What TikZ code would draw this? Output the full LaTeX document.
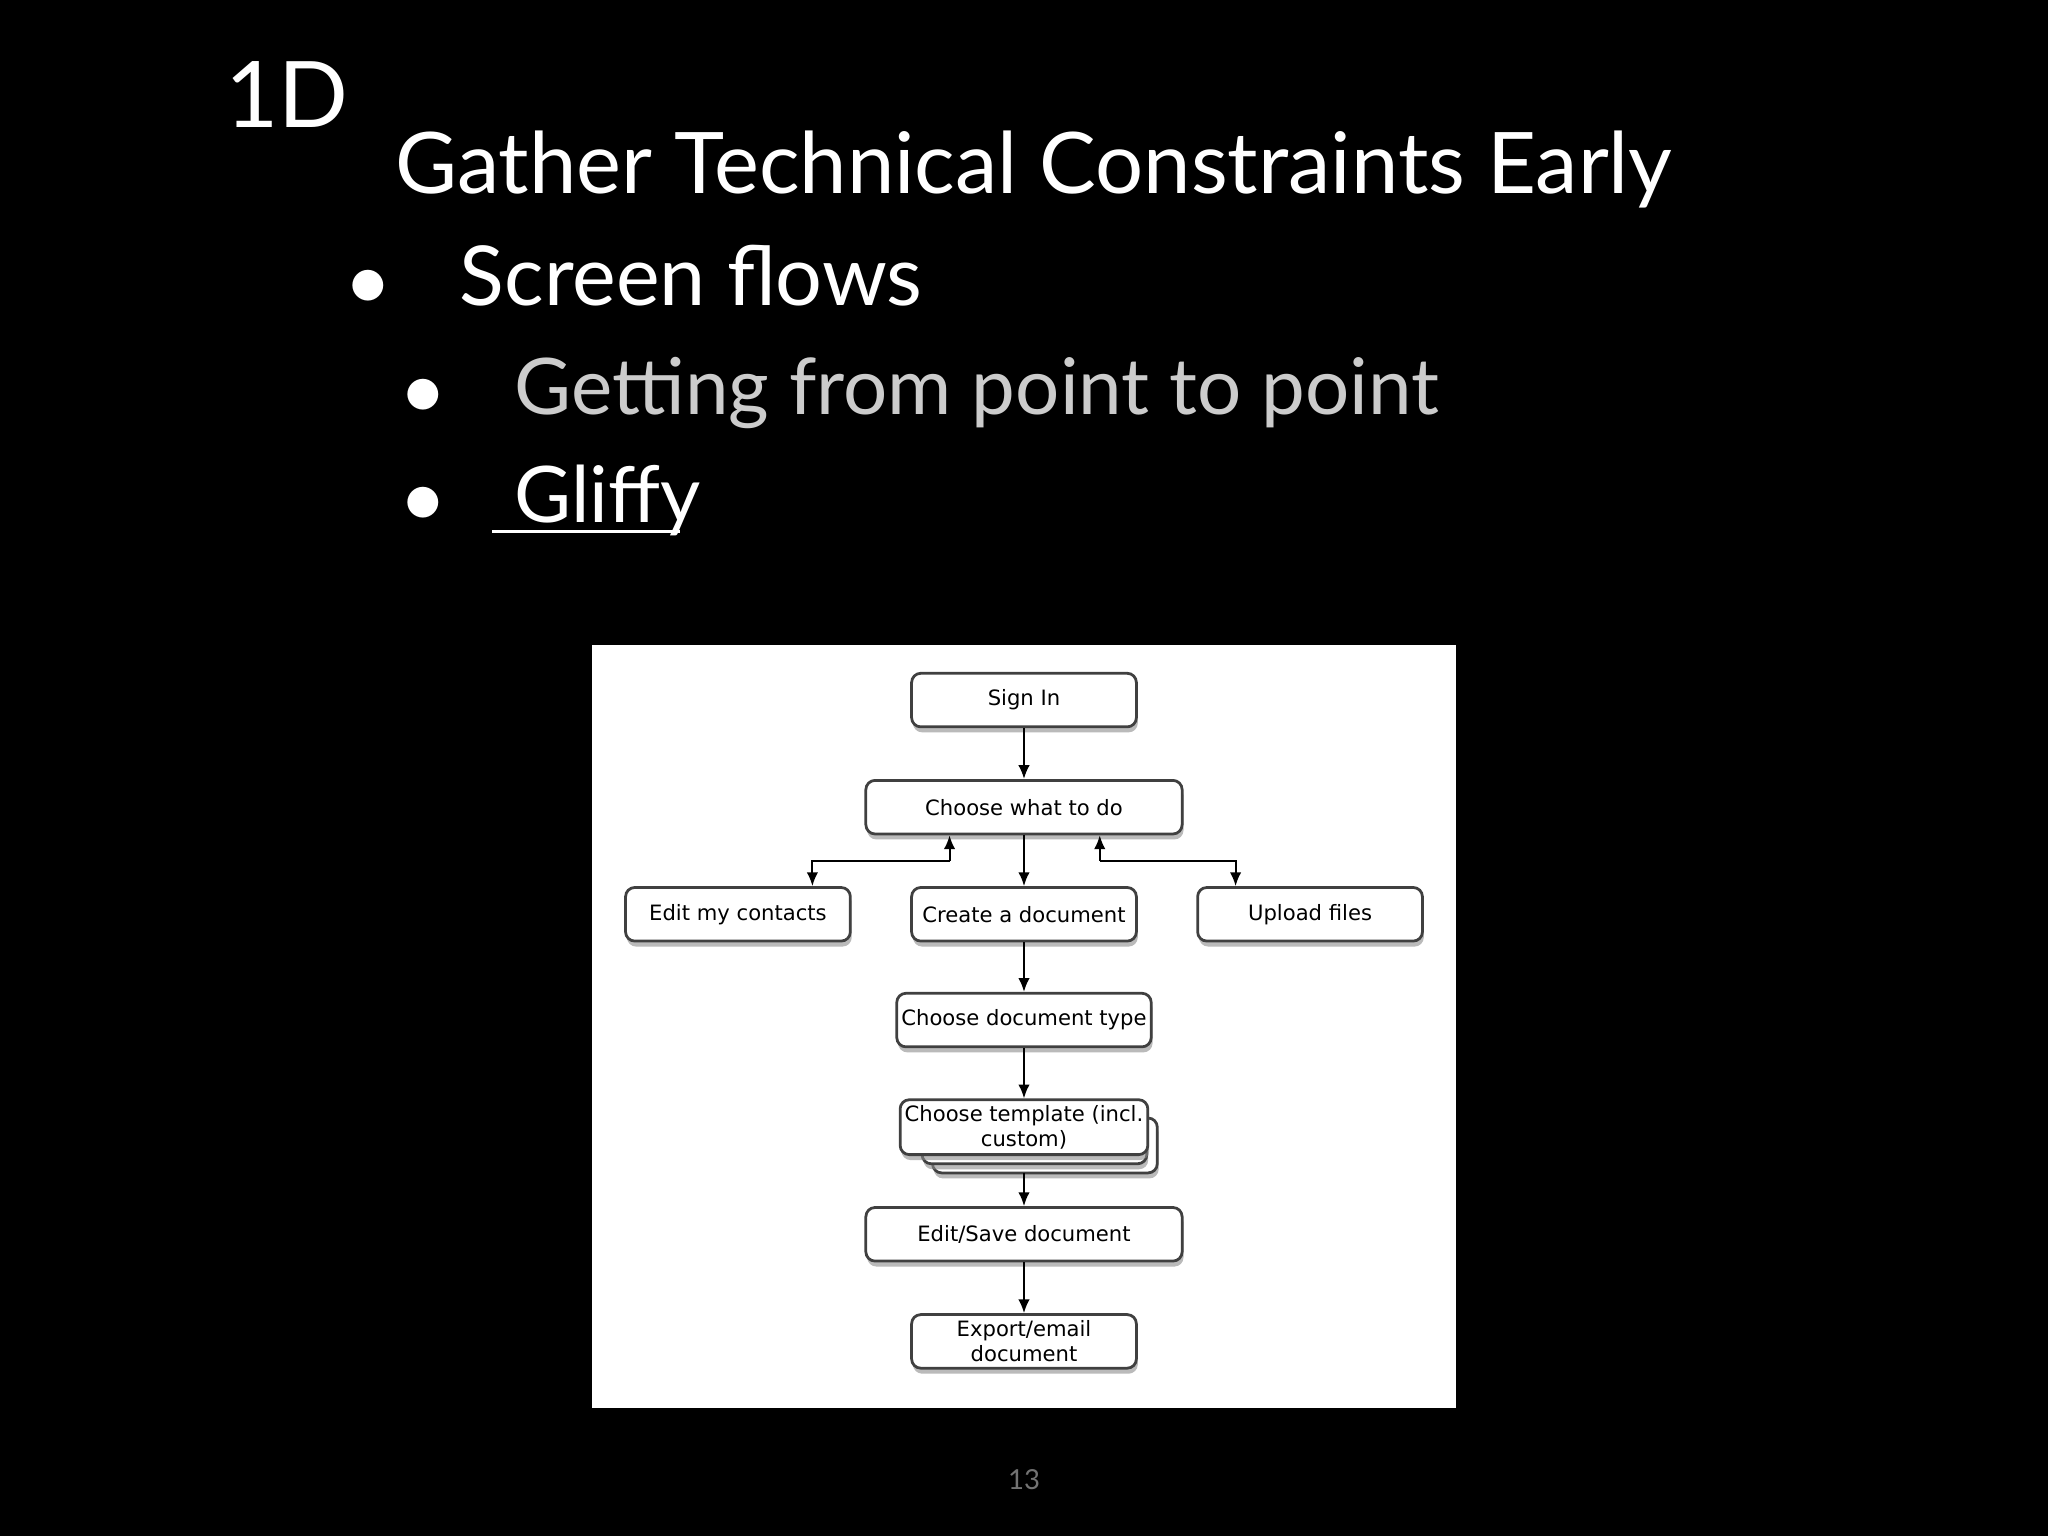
\documentclass[tikz,border=0pt]{standalone}
\usepackage{fontspec}
\setmainfont{Lato}
\newfontfamily\boxfont{DejaVu Sans}
\usetikzlibrary{shadows,arrows.meta}
\begin{document}
\begin{tikzpicture}[x=0.01cm,y=-0.01cm,
  bx/.style={draw=black!75,line width=0.6pt,fill=white,rounded corners=2pt,minimum height=0.41cm,
    font=\boxfont\fontsize{4.6}{5.4}\selectfont,align=center,inner sep=1pt,
    drop shadow={shadow xshift=0.3pt,shadow yshift=-1.2pt,fill=black!45,opacity=0.6}},
  ar/.style={-{Latex[length=3pt,width=2.5pt]},line width=0.45pt},
  tt/.style={text=white,anchor=base west,inner sep=0}]
\fill[black] (0,0) rectangle (1568,1176);
\node[tt,font=\fontsize{20}{24}\selectfont] (t1) at (172,98) {1D};
\node[tt,font=\fontsize{18.5}{22}\selectfont] (t2) at (302,148) {Gather Technical Constraints Early};
\node[tt,font=\fontsize{18}{22}\selectfont] (b1) at (266,234) {$\bullet$\hspace{0.55cm}Screen flows};
\node[tt,font=\fontsize{17}{20}\selectfont,text=black!20] (b2) at (308,317) {\textcolor{white}{$\bullet$}\hspace{0.55cm}Getting from point to point};
\node[tt,font=\fontsize{17}{20}\selectfont] (b3) at (308,400) {$\bullet$\hspace{0.55cm}Gliffy};
\draw[white,line width=0.6pt] (377,407) -- (521,407);
\node[text=black!55,font=\fontsize{6}{7}\selectfont] (pg) at (784,1133) {13};
\fill[white] (453,494) rectangle (1115,1078);
\node[bx,minimum width=1.72cm] (si) at (784,536) {Sign In};
\node[bx,minimum width=2.42cm] (cw) at (784,618) {Choose what to do};
\node[bx,minimum width=1.72cm] (ec) at (565,700) {Edit my contacts};
\node[bx,minimum width=1.72cm] (cd) at (784,700) {Create a document};
\node[bx,minimum width=1.72cm] (uf) at (1003,700) {Upload files};
\node[bx,minimum width=1.72cm] (dt) at (784,781) {Choose document type};
\node[bx,minimum width=1.72cm,minimum height=0.42cm] (tp3) at (800,877) {};
\node[bx,minimum width=1.72cm,minimum height=0.42cm] (tp2) at (792,870) {};
\node[bx,minimum width=1.72cm,minimum height=0.42cm] (tp) at (784,863) {Choose template (incl.\\custom)};
\node[bx,minimum width=2.42cm] (es) at (784,945) {Edit/Save document};
\node[bx,minimum width=1.72cm] (ex) at (784,1027) {Export/email\\document};
\coordinate (l1) at (727,659); \coordinate (l2) at (622,659);
\coordinate (r1) at (842,659); \coordinate (r2) at (946,659);
\draw[ar] (si) -- (cw);
\draw[ar] (cw) -- (cd);
\draw[ar] (l1) -- (l1|-cw.south);
\draw[ar] (l1) -- (l2) -- (l2|-ec.north);
\draw[ar] (r1) -- (r1|-cw.south);
\draw[ar] (r1) -- (r2) -- (r2|-uf.north);
\draw[ar] (cd) -- (dt);
\draw[ar] (dt) -- (tp);
\draw[ar] (784,898) -- (es);
\draw[ar] (es) -- (ex);
\end{tikzpicture}
\end{document}
